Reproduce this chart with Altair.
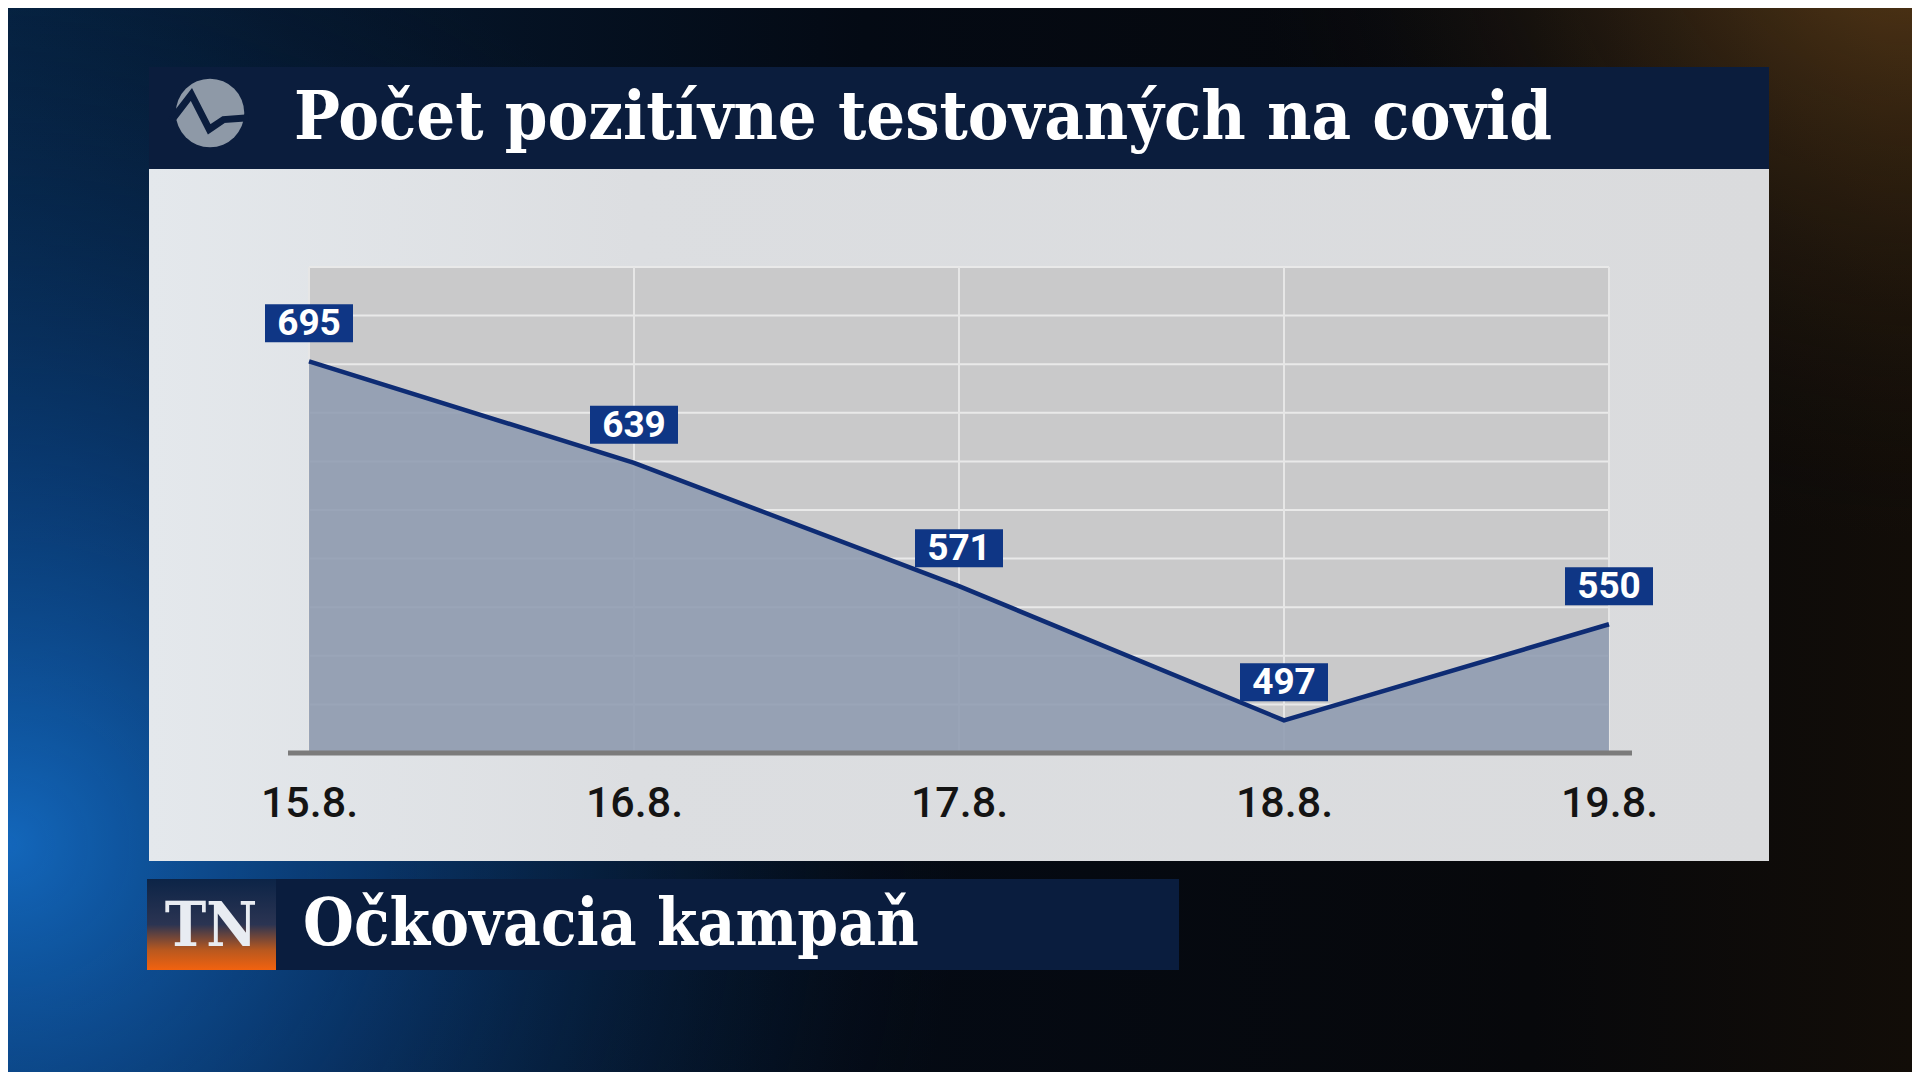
import altair as alt
import pandas as pd
import numpy as np

# ---- data ----
dates = ["15.8.", "16.8.", "17.8.", "18.8.", "19.8."]
cases = [695, 639, 571, 497, 550]
title_text = "Počet pozitívne testovaných na covid"
footer_text = "Očkovacia kampaň"
logo_text = "TN"

y_domain = [479, 747]
grid_vals = list(np.linspace(y_domain[0], y_domain[1], 11))

W, H = 1300, 486
PAD = {"left": 301, "top": 259, "right": 303, "bottom": 319}
SERIF = "'DejaVu Serif Condensed', 'DejaVu Serif', serif"

df = pd.DataFrame({"date": dates, "cases": cases})
gdf = pd.DataFrame({"v": grid_vals})
one = pd.DataFrame({"a": [0]})

xenc = alt.X("date:O", sort=dates, scale=alt.Scale(type="point", padding=0),
             axis=alt.Axis(title=None, grid=False, ticks=False, tickSize=0, domain=False,
                           labelAngle=0, labelFont="Roboto", labelFontWeight=500,
                           labelFontSize=43, labelColor="#141414", labelPadding=50,
                           labelBaseline="middle", zindex=2))
yscale = alt.Scale(domain=y_domain, zero=False, nice=False)


def box(x1, x2, y1, y2, color, **kw):
    return alt.Chart(one).mark_rect(color=color, **kw).encode(
        x=alt.value(x1), x2=alt.value(x2), y=alt.value(y1), y2=alt.value(y2))


FULL = (-PAD["left"], W + PAD["right"], -PAD["top"], H + PAD["bottom"])

# background
bg = box(*FULL,
         alt.LinearGradient(gradient="linear", x1=0, x2=1, y1=0, y2=0, stops=[
             alt.GradientStop(color="#06213f", offset=0),
             alt.GradientStop(color="#05172d", offset=0.15),
             alt.GradientStop(color="#040a14", offset=0.45),
             alt.GradientStop(color="#07080b", offset=0.8),
             alt.GradientStop(color="#120d08", offset=1)]))
glow_blue = box(*FULL,
                alt.RadialGradient(gradient="radial", x1=0, y1=0.66, r1=0, x2=0, y2=0.66, r2=0.5, stops=[
                    alt.GradientStop(color="rgba(20,110,200,0.9)", offset=0),
                    alt.GradientStop(color="rgba(12,80,160,0.5)", offset=0.4),
                    alt.GradientStop(color="rgba(5,30,60,0)", offset=1)]))
glow_orange = box(*FULL,
                  alt.RadialGradient(gradient="radial", x1=1, y1=0.15, r1=0, x2=1, y2=0.15, r2=0.35, stops=[
                      alt.GradientStop(color="rgba(170,110,40,0.55)", offset=0),
                      alt.GradientStop(color="rgba(90,60,25,0.3)", offset=0.5),
                      alt.GradientStop(color="rgba(20,15,10,0)", offset=1)]))

title_bar = box(-160, 1460, -200, -98, "#0b1d3d")
panel = box(-160, 1460, -98, 594,
            alt.LinearGradient(gradient="linear", x1=0, x2=1, y1=0, y2=0, stops=[
                alt.GradientStop(color="#e4e8ec", offset=0),
                alt.GradientStop(color="#dcdee1", offset=0.3),
                alt.GradientStop(color="#dadbdd", offset=1)]))
plot_bg = box(0, W, 0, H, "#c9c9ca")

hgrid = alt.Chart(gdf).mark_rule(color="#e9e9e9", strokeWidth=2).encode(
    y=alt.Y("v:Q", scale=yscale, axis=None), x=alt.value(0), x2=alt.value(W))
vgrid = alt.Chart(df).mark_rule(color="#e6e6e6", strokeWidth=2).encode(
    x=xenc, y=alt.value(0), y2=alt.value(H))

area = alt.Chart(df).mark_area(color="#8e9bb0", opacity=0.88).encode(
    x=xenc, y=alt.Y("cases:Q", scale=yscale, axis=None), y2=alt.datum(y_domain[0]))
line = alt.Chart(df).mark_line(color="#0e2c74", strokeWidth=4.5).encode(
    x=xenc, y=alt.Y("cases:Q", scale=yscale, axis=None))
baseline = alt.Chart(one).mark_rule(color="#7b7b7b", strokeWidth=5).encode(
    x=alt.value(-21), x2=alt.value(1323), y=alt.value(H))

lab_box = alt.Chart(df).mark_rect(color="#0f3685", xOffset=-44, x2Offset=44,
                                  yOffset=-57, y2Offset=-19).encode(
    x=xenc, x2=alt.X2("date:O"), y=alt.Y("cases:Q", scale=yscale, axis=None), y2=alt.Y2("cases:Q"))
lab_txt = alt.Chart(df).mark_text(color="white", font="Roboto", fontWeight="bold", fontSize=37,
                                  baseline="middle", align="center", dy=-37).encode(
    x=xenc, y=alt.Y("cases:Q", scale=yscale, axis=None), text="cases:Q")

logo_circle = alt.Chart(one).mark_point(shape="circle", filled=True, color="#8e99a7",
                                        size=4700, opacity=1).encode(
    x=alt.value(-99), y=alt.value(-154))
logo_wave = alt.Chart(one).mark_point(shape="M-1,0.2L-0.48,-0.48L-0.02,0.42L0.35,0.17L1,0.12",
                                      filled=False, color="#0b1d3d", strokeWidth=7,
                                      size=6000, opacity=1).encode(
    x=alt.value(-99), y=alt.value(-154))
title = alt.Chart(one).mark_text(text=title_text, font=SERIF,
                                 fontWeight="bold", fontSize=68, color="white",
                                 align="left", baseline="middle").encode(
    x=alt.value(-15), y=alt.value(-148))

foot_bar = box(-162, 870, 612, 703, "#0a1d3e")
tn_box = box(-162, -33, 612, 703,
             alt.LinearGradient(gradient="linear", x1=0, x2=0, y1=0, y2=1, stops=[
                 alt.GradientStop(color="#0c2447", offset=0),
                 alt.GradientStop(color="#2b3452", offset=0.5),
                 alt.GradientStop(color="#b8581f", offset=0.78),
                 alt.GradientStop(color="#f2620f", offset=1)]))
tn_txt = alt.Chart(one).mark_text(text=logo_text, font=SERIF,
                                  fontWeight="bold", fontSize=62, color="#e8ecf2",
                                  align="center", baseline="middle").encode(
    x=alt.value(-98), y=alt.value(660))
foot_txt = alt.Chart(one).mark_text(text=footer_text, font=SERIF,
                                    fontWeight="bold", fontSize=65, color="white",
                                    align="left", baseline="middle").encode(
    x=alt.value(-6), y=alt.value(658))

chart = alt.layer(
    bg, glow_blue, glow_orange, title_bar, panel, plot_bg, hgrid, vgrid,
    area, line, baseline, lab_box, lab_txt, logo_circle, logo_wave, title,
    foot_bar, tn_box, tn_txt, foot_txt
).properties(
    width=W, height=H,
    autosize=alt.AutoSizeParams(type="none"),
    padding=PAD,
    background="#050a12",
).configure_view(stroke=None)

chart.save("out.html", embed_options={"renderer": "svg", "actions": False})
